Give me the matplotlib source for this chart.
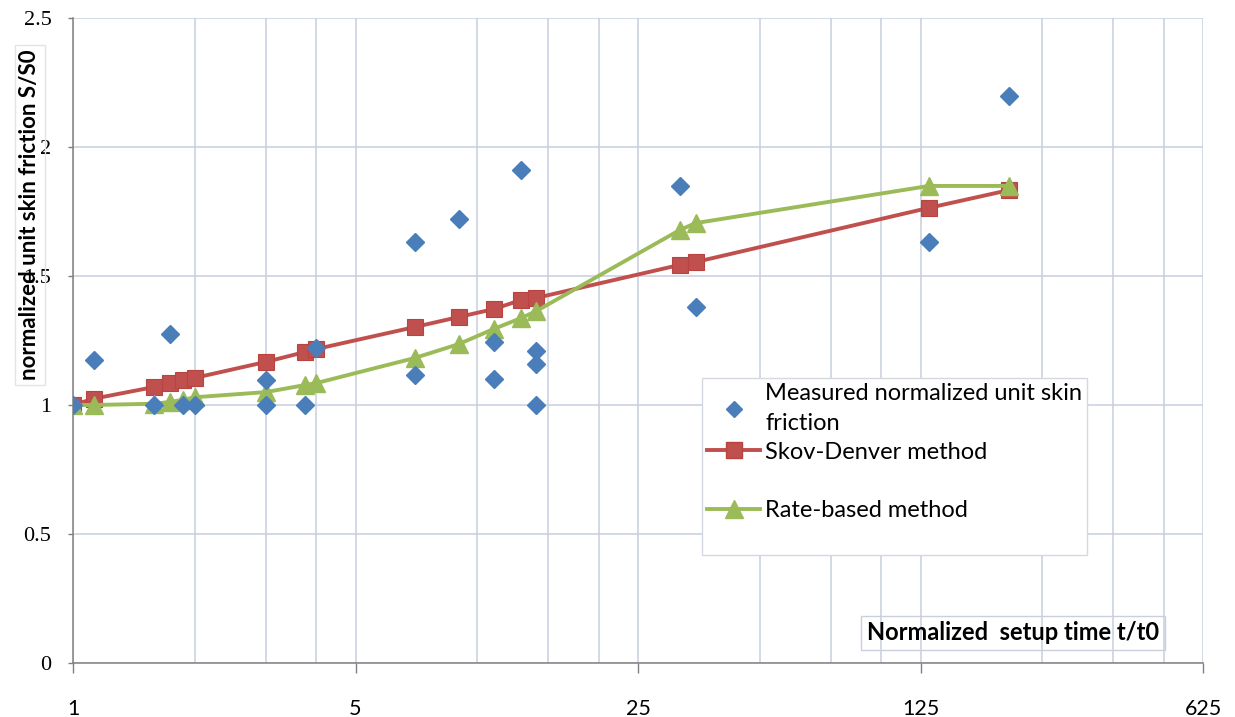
import matplotlib
matplotlib.use("Agg")
import matplotlib.pyplot as plt
from matplotlib.lines import Line2D
from matplotlib.ticker import FixedLocator, FixedFormatter, NullFormatter

# normalized setup time t/t0 shared by the two prediction curves
t_model = [1, 1.13, 1.59, 1.74, 1.87, 2, 3, 3.74, 4, 7, 9, 11, 12.85, 14,
           31.7, 34.7, 131, 207]
skov_denver = [1.0, 1.025, 1.07, 1.085, 1.097, 1.105, 1.167, 1.205, 1.217,
               1.302, 1.341, 1.372, 1.407, 1.415, 1.543, 1.554, 1.764, 1.833]
rate_based = [1.0, 1.0, 1.005, 1.012, 1.02, 1.03, 1.05, 1.077, 1.085,
              1.182, 1.236, 1.295, 1.337, 1.364, 1.678, 1.705, 1.849, 1.849]

# measured points
t_meas = [1, 1.13, 1.59, 1.74, 1.87, 2, 3, 3, 3.74, 4, 7, 7, 9, 11, 11,
          12.85, 14, 14, 14, 31.7, 34.7, 131, 207]
s_meas = [1.0, 1.174, 1.0, 1.275, 1.0, 1.0, 1.097, 1.0, 1.0, 1.22, 1.632,
          1.116, 1.721, 1.244, 1.101, 1.911, 1.209, 1.159, 1.0, 1.849, 1.38,
          1.632, 2.198]

x_major = [1, 5, 25, 125, 625]
x_minor = [2, 3, 4, 10, 15, 20, 50, 75, 100, 250, 375, 500]
y_ticks = [0, 0.5, 1, 1.5, 2, 2.5]
y_labels = ["0", "0.5", "1", "1.5", "2", "2.5"]

BLUE = "#4a7ebb"
RED = "#c0504d"
GREEN = "#9bbb59"
GRID = "#c6cfdf"

fig = plt.figure(figsize=(12.35, 7.17), dpi=100)
W, H = 1235, 717
ax = fig.add_axes([73 / W, 1 - 663 / H, (1203 - 73) / W, (663 - 18) / H])

ax.set_xscale("log", base=5)
ax.set_xlim(1, 625)
ax.set_ylim(0, 2.5)

ax.plot(t_model, skov_denver, color=RED, lw=2.8, marker="s", ms=12,
        mfc=RED, mec="#b8433f", mew=0.8, zorder=3, label="Skov-Denver method")
ax.plot(t_model, rate_based, color=GREEN, lw=2.8, marker="^", ms=12.5,
        mfc=GREEN, mec=GREEN, zorder=4, label="Rate-based method")
ax.plot(t_meas, s_meas, ls="none", marker="D", ms=9.5, mfc=BLUE, mec=BLUE,
        zorder=5, label="Measured normalized unit skin\nfriction")

ax.xaxis.set_major_locator(FixedLocator(x_major))
ax.xaxis.set_major_formatter(FixedFormatter([str(v) for v in x_major]))
ax.xaxis.set_minor_locator(FixedLocator(x_minor))
ax.xaxis.set_minor_formatter(NullFormatter())
ax.yaxis.set_major_locator(FixedLocator(y_ticks))
ax.yaxis.set_major_formatter(FixedFormatter(y_labels))

ax.grid(True, which="both", axis="x", color=GRID, lw=1.1)
ax.grid(True, which="major", axis="y", color=GRID, lw=1.1)
ax.set_axisbelow(True)

for side in ("top", "right"):
    ax.spines[side].set_visible(False)
for side in ("left", "bottom"):
    ax.spines[side].set_color("#808080")
    ax.spines[side].set_linewidth(1.1)

ax.tick_params(axis="x", which="major", direction="out", length=7,
               width=1, color="#808080", pad=19, labelsize=15.5)
ax.tick_params(axis="x", which="minor", length=0)
ax.tick_params(axis="y", direction="out", length=3.5, width=1,
               color="#808080", pad=12, labelsize=16)
for lab in ax.get_xticklabels():
    lab.set_family("Lato")
for lab in ax.get_yticklabels():
    lab.set_family("Liberation Serif")

# legend: blank rows reproduce the gaps of the original box
blank = Line2D([], [], ls="none")
h_meas = Line2D([], [], ls="none", marker="D", ms=8, mfc=BLUE, mec=BLUE)
h_skov = Line2D([], [], color=RED, lw=2.8, marker="s", ms=12, mfc=RED,
                mec="#b8433f")
h_rate = Line2D([], [], color=GREEN, lw=2.8, marker="^", ms=12.5, mfc=GREEN,
                mec=GREEN)
leg = ax.legend([h_meas, h_skov, blank, h_rate, blank],
                ["Measured normalized unit skin\nfriction",
                 "Skov-Denver method", " ", "Rate-based method", " "],
                loc="upper left", bbox_to_anchor=(702 / W, 1 - 378 / H),
                bbox_transform=fig.transFigure, borderaxespad=0,
                prop={"family": "Lato", "size": 17},
                labelspacing=0.34, handlelength=2.25, handletextpad=0.2,
                borderpad=0.22, fancybox=False, framealpha=1,
                edgecolor="#d4d8e0")
leg.get_frame().set_linewidth(1.0)
for txt in leg.get_texts():
    txt.set_linespacing(1.5)

fig.text(30 / W, 1 - 215 / H, "normalized unit skin friction S/S0",
         rotation=90, ha="center", va="center", family="Lato",
         weight="bold", size=16, zorder=10,
         bbox=dict(boxstyle="square,pad=0.2", fc="none", ec="#dfe3ea",
                   lw=1))
fig.text(867 / W, 1 - 633 / H, "Normalized  setup time t/t0", ha="left",
         va="center", family="Lato", weight="bold", size=17,
         bbox=dict(boxstyle="square,pad=0.25", fc="none", ec="#c9d0dc",
                   lw=1))

fig.savefig("out.png", dpi=100)
plt.close(fig)
